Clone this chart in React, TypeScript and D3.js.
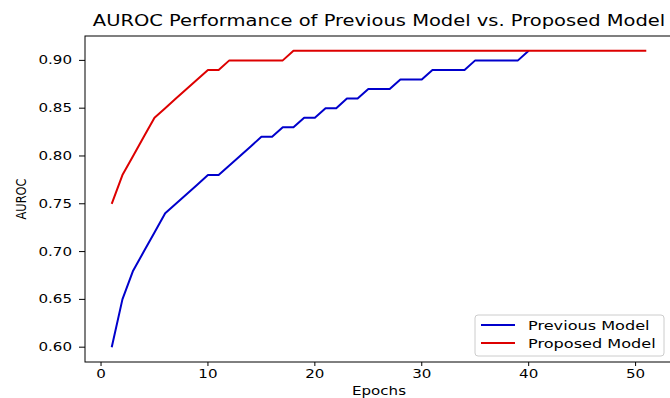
import React from 'react';
import * as d3 from 'd3';

// values
const previousEpochs = d3.range(1, 41);
const previousAuroc = [
  0.6, 0.65, 0.68, 0.7, 0.72, 0.74, 0.75, 0.76, 0.77, 0.78,
  0.78, 0.79, 0.8, 0.81, 0.82, 0.82, 0.83, 0.83, 0.84, 0.84,
  0.85, 0.85, 0.86, 0.86, 0.87, 0.87, 0.87, 0.88, 0.88, 0.88,
  0.89, 0.89, 0.89, 0.89, 0.9, 0.9, 0.9, 0.9, 0.9, 0.91,
];
const proposedEpochs = d3.range(1, 52);
const proposedAuroc = [
  0.75, 0.78, 0.8, 0.82, 0.84, 0.85, 0.86, 0.87, 0.88, 0.89,
  0.89, 0.9, 0.9, 0.9, 0.9, 0.9, 0.9, 0.91, 0.91, 0.91,
  0.91, 0.91, 0.91, 0.91, 0.91, 0.91, 0.91, 0.91, 0.91, 0.91,
  0.91, 0.91, 0.91, 0.91, 0.91, 0.91, 0.91, 0.91, 0.91, 0.91,
  0.91, 0.91, 0.91, 0.91, 0.91, 0.91, 0.91, 0.91, 0.91, 0.91,
  0.91,
];
const xTicks = [0, 10, 20, 30, 40, 50];
const yTicks = [0.6, 0.65, 0.7, 0.75, 0.8, 0.85, 0.9];
const seriesNames = ['Previous Model', 'Proposed Model'];
const seriesColors = ['#0000cc', '#dd0000'];

const W = 670;
const H = 398;
const FONT = 'DejaVu Sans';
const SX = 1.3; // the reference picture is stretched sideways

const STxt = ({x, y, size, anchor = 'start', rotate = 0, children}: any) => (
  <text
    transform={`translate(${x},${y}) scale(${SX},1) rotate(${rotate})`}
    fontFamily={FONT}
    fontSize={size}
    textAnchor={anchor}
    fill="#000"
  >
    {children}
  </text>
);

export default function App() {
  const x = d3.scaleLinear().domain([-1.5, 53.5]).range([85, 673]);
  const y = d3.scaleLinear().domain([0.5845, 0.9255]).range([362, 36]);

  const line = d3
    .line<[number, number]>()
    .x((d) => x(d[0]))
    .y((d) => y(d[1]));

  const series = [
    d3.zip(previousEpochs, previousAuroc) as [number, number][],
    d3.zip(proposedEpochs, proposedAuroc) as [number, number][],
  ];

  const [x0, x1] = x.range();
  const [yb, yt] = y.range();
  const midX = (x0 + x1) / 2;
  const midY = (yb + yt) / 2;

  return (
    <svg
      width={W}
      height={H}
      style={{position: 'absolute', left: 0, top: 0, background: '#fff'}}
    >
      {series.map((s, i) => (
        <path
          key={i}
          d={line(s) || ''}
          fill="none"
          stroke={seriesColors[i]}
          strokeWidth={2}
          strokeLinejoin="round"
        />
      ))}

      {/* spines */}
      <rect
        x={x0}
        y={yt}
        width={x1 - x0}
        height={yb - yt}
        fill="none"
        stroke="#000"
        strokeWidth={1}
      />

      {/* y axis */}
      {yTicks.map((t) => (
        <g key={t}>
          <line x1={x0 - 6} x2={x0} y1={y(t)} y2={y(t)} stroke="#000" />
          <STxt x={72} y={y(t) + 4} size={11.6} anchor="end">
            {t.toFixed(2)}
          </STxt>
        </g>
      ))}

      {/* x axis */}
      {xTicks.map((t) => (
        <g key={t}>
          <line x1={x(t)} x2={x(t)} y1={yb} y2={yb + 4} stroke="#000" />
          <STxt x={x(t)} y={378} size={11.6} anchor="middle">
            {t}
          </STxt>
        </g>
      ))}

      <STxt x={midX} y={26} size={15} anchor="middle">
        AUROC Performance of Previous Model vs. Proposed Model
      </STxt>
      <STxt x={26} y={midY} size={11.4} anchor="middle" rotate={-90}>
        AUROC
      </STxt>
      <STxt x={midX} y={395} size={11.6} anchor="middle">
        Epochs
      </STxt>

      {/* legend */}
      <g>
        <rect
          x={475}
          y={315}
          width={189}
          height={41}
          rx={3}
          fill="#fff"
          fillOpacity={0.8}
          stroke="#ccc"
        />
        {seriesNames.map((n, i) => (
          <g key={n}>
            <line
              x1={481}
              x2={515}
              y1={325 + i * 18}
              y2={325 + i * 18}
              stroke={seriesColors[i]}
              strokeWidth={2}
            />
            <STxt x={528} y={329.5 + i * 18} size={12.4}>
              {n}
            </STxt>
          </g>
        ))}
      </g>
    </svg>
  );
}
